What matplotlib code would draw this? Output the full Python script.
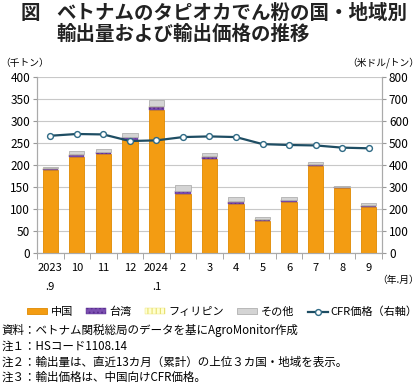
import matplotlib
matplotlib.use("Agg")
import matplotlib.pyplot as plt
import numpy as np

plt.rcParams['font.family'] = ['Noto Sans CJK JP', 'DejaVu Sans']
plt.rcParams['hatch.linewidth'] = 0.8

months = ["2023\n.9", "10", "11", "12", "2024\n.1", "2", "3", "4", "5", "6", "7", "8", "9"]
china = [188, 219, 226, 257, 326, 135, 214, 112, 72, 117, 197, 147, 104]
taiwan = [4, 4.5, 4, 6, 6, 5, 5, 5, 4, 4, 4, 2, 4]
philippines = [0.5, 1, 0.5, 1, 1, 2, 2, 2, 1, 0.5, 0.5, 0.5, 0.5]
others = [2.5, 6.5, 6.5, 9, 14, 12, 6, 8, 5, 5, 6, 3, 5]
cfr_price = [533, 541, 539, 509, 512, 527, 530, 527, 495, 491, 489, 479, 476]

fig = plt.figure(figsize=(4.2, 3.84), dpi=100)
ax = fig.add_axes([0.088, 0.341, 0.8215, 0.4585])
ax2 = ax.twinx()

x = np.arange(len(months))
w = 0.58
bottom = np.zeros(len(months))
ax.bar(x, china, w, bottom=bottom, color="#F39C12", edgecolor="#E08A00", linewidth=0.6, label="中国", zorder=3)
bottom += china
ax.bar(x, taiwan, w, bottom=bottom, color="#7B4FB0", edgecolor="#5A2E90", hatch="....", linewidth=0.3, label="台湾", zorder=3)
bottom += taiwan
ax.bar(x, philippines, w, bottom=bottom, color="#FFFFD0", edgecolor="#E8E070", hatch="||||", linewidth=0.3, label="フィリピン", zorder=3)
bottom += philippines
ax.bar(x, others, w, bottom=bottom, color="#D4D4D4", edgecolor="#B0B0B0", linewidth=0.6, label="その他", zorder=3)

ax2.plot(x, cfr_price, color="#1E4D63", linewidth=1.6, marker="o", markersize=4.2,
         markerfacecolor="white", markeredgecolor="#2F6A85", markeredgewidth=1.0,
         label="CFR価格（右軸）", zorder=4)

ax.set_xlim(-0.5, len(months) - 0.5)
ax.set_ylim(0, 400)
ax2.set_ylim(0, 800)
ax.set_yticks(np.arange(0, 401, 50))
ax2.set_yticks(np.arange(0, 801, 100))
ax.yaxis.grid(True, color="#C8C8C8", linewidth=0.8, zorder=0)
ax.set_axisbelow(True)

ax.set_xticks(x)
ax.set_xticklabels(months, fontsize=8)
for lab in ax.get_xticklabels():
    lab.set_linespacing(2.1)
    lab.set_verticalalignment("top")
ax.set_xticks(np.arange(-0.5, len(months), 1), minor=True)
ax.tick_params(axis="x", which="major", length=0, pad=7)
ax.tick_params(axis="x", which="minor", length=4, color="#999999", direction="out")
ax.tick_params(axis="y", labelsize=8.5, length=3, color="#999999", pad=2)
ax2.tick_params(axis="y", labelsize=8.5, length=3, color="#999999", pad=2)

for a in (ax, ax2):
    a.spines["top"].set_visible(False)
    a.spines["left"].set_color("#AAAAAA")
    a.spines["right"].set_color("#AAAAAA")
    a.spines["bottom"].set_color("#AAAAAA")

# titles and unit labels
tkw = dict(fontsize=14, fontweight="bold", va="center", ha="left", color="#222222")
fig.text(0.05, 0.966, "図", **tkw)
fig.text(0.135, 0.966, "ベトナムのタピオカでん粉の国・地域別", **tkw)
fig.text(0.135, 0.911, "輸出量および輸出価格の推移", **tkw)
fig.text(0.0, 0.836, "（千トン）", fontsize=7, va="center", ha="left")
fig.text(0.998, 0.836, "（米ドル/トン）", fontsize=7, va="center", ha="right")
fig.text(0.998, 0.27, "（年.月）", fontsize=7, va="center", ha="right")

h1, l1 = ax.get_legend_handles_labels()
h2, l2 = ax2.get_legend_handles_labels()
fig.legend(h1 + h2, l1 + l2, loc="center", bbox_to_anchor=(0.53, 0.188), ncol=5,
           frameon=False, fontsize=8, handlelength=1.8, handleheight=0.5,
           columnspacing=1.2, handletextpad=0.3)

notes = [
    "資料：ベトナム関税総局のデータを基にAgroMonitor作成",
    "注１：HSコード1108.14",
    "注２：輸出量は、直近13カ月（累計）の上位３カ国・地域を表示。",
    "注３：輸出価格は、中国向けCFR価格。",
]
ys = [0.140, 0.097, 0.056, 0.017]
for t, yy in zip(notes, ys):
    fig.text(0.003, yy, t, fontsize=8.3, va="center", ha="left")

fig.savefig("out.png", dpi=100)
